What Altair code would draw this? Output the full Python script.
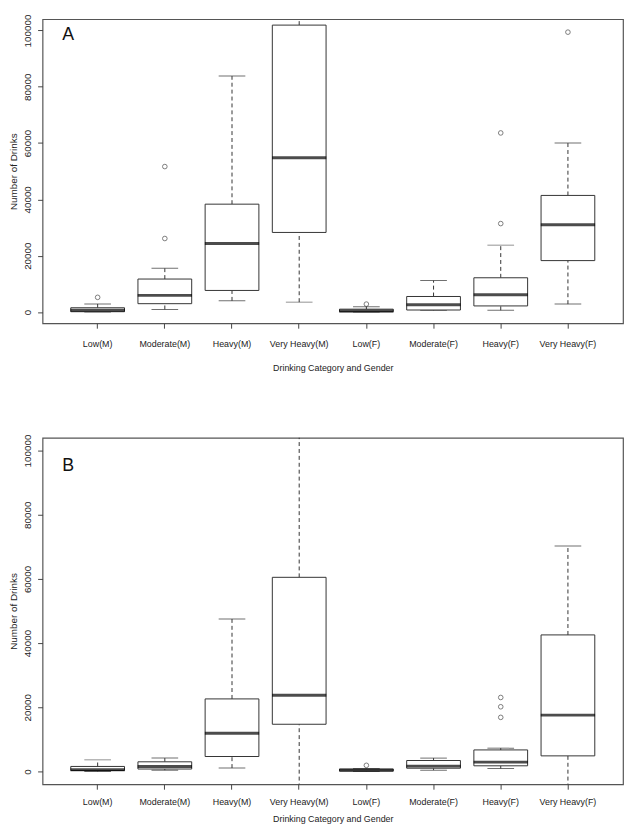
import altair as alt
import pandas as pd

cats = ["Low(M)", "Moderate(M)", "Heavy(M)", "Very Heavy(M)",
        "Low(F)", "Moderate(F)", "Heavy(F)", "Very Heavy(F)"]

# Panel A five-number summaries
a_lo  = [0, 900, 3950, 3500, 0, 600, 600, 2800]
a_q1  = [100, 2950, 7650, 28250, 100, 700, 2150, 18250]
a_med = [600, 5900, 24300, 54800, 350, 2600, 6100, 30950]
a_q3  = [1500, 11700, 38300, 101900, 1000, 5500, 12150, 41400]
a_hi  = [2850, 15500, 83800, 105000, 1900, 11150, 23750, 60000]
a_out_cat = ["Low(M)", "Moderate(M)", "Moderate(M)", "Low(F)", "Heavy(F)", "Heavy(F)", "Very Heavy(F)"]
a_out_val = [5200, 26100, 51650, 2800, 31400, 63600, 99400]

# Panel B five-number summaries
b_lo  = [0, 400, 1050, -5000, 0, 400, 900, -5000]
b_q1  = [300, 750, 4650, 14700, 100, 1000, 1750, 4850]
b_med = [500, 1550, 11900, 23750, 400, 1650, 2900, 17550]
b_q3  = [1550, 3000, 22600, 60500, 750, 3400, 6700, 42550]
b_hi  = [3600, 4150, 47500, 105000, 900, 4150, 7250, 70250]
b_out_cat = ["Low(F)", "Heavy(F)", "Heavy(F)", "Heavy(F)"]
b_out_val = [1900, 16850, 20150, 23050]

y_ticks = [0, 20000, 40000, 60000, 80000, 100000]

LINE = "#333333"
SANS = "Liberation Sans, Arial, sans-serif"


def panel(letter, lo, q1, med, q3, hi, out_cat, out_val, height,
          label_pad, title_pad, letter_y):
    df = pd.DataFrame(dict(cat=cats, lo=lo, q1=q1, med=med, q3=q3, hi=hi))
    od = pd.DataFrame(dict(cat=out_cat, val=out_val))
    ld = pd.DataFrame(dict(t=[letter]))

    x = alt.X("cat:N", sort=cats,
              scale=alt.Scale(paddingInner=0, paddingOuter=0.32),
              axis=alt.Axis(title="Drinking Category and Gender", labelAngle=0,
                            domain=False, tickSize=5, tickColor="#444",
                            labelFont=SANS, labelFontSize=9, labelColor="#222",
                            labelPadding=label_pad, titleFont=SANS, titleFontSize=9,
                            titleFontWeight="normal", titleColor="#222",
                            titlePadding=title_pad))
    ysc = alt.Scale(domain=[-4000, 104000], nice=False, zero=False)
    yax = alt.Axis(title="Number of Drinks", values=y_ticks, format="d",
                   labelAngle=270, labelAlign="center", labelBaseline="bottom",
                   grid=False, domain=False, tickSize=5, tickColor="#444",
                   labelFont=SANS, labelFontSize=10, labelColor="#222",
                   labelPadding=5, titleFont=SANS, titleFontSize=10,
                   titleFontWeight="normal", titleColor="#222", titlePadding=4)

    base = alt.Chart(df).encode(x=x)
    upper = base.mark_rule(strokeDash=[4, 3], color=LINE, strokeWidth=1, clip=True).encode(
        y=alt.Y("q3:Q", scale=ysc, axis=yax), y2="hi:Q")
    lower = base.mark_rule(strokeDash=[4, 3], color=LINE, strokeWidth=1, clip=True).encode(
        y=alt.Y("lo:Q", scale=ysc), y2="q1:Q")
    cap_hi = base.mark_tick(size=27, thickness=1, color=LINE, clip=True).encode(
        y=alt.Y("hi:Q", scale=ysc))
    cap_lo = base.mark_tick(size=27, thickness=1, color=LINE, clip=True).encode(
        y=alt.Y("lo:Q", scale=ysc))
    box = base.mark_bar(width=alt.RelativeBandSize(0.8), fill="white", stroke=LINE,
                        strokeWidth=1, clip=True).encode(
        y=alt.Y("q1:Q", scale=ysc), y2="q3:Q")
    median = base.mark_tick(size=55, thickness=3, color="#000", clip=True).encode(
        y=alt.Y("med:Q", scale=ysc))
    outl = alt.Chart(od).mark_point(shape="circle", filled=False, size=22,
                                    color=LINE, strokeWidth=0.9, clip=True).encode(
        x=alt.X("cat:N", sort=cats), y=alt.Y("val:Q", scale=ysc))
    lab = alt.Chart(ld).mark_text(fontSize=18, font=SANS, color="#111",
                                  align="center", baseline="alphabetic").encode(
        text="t:N", x=alt.value(26), y=alt.value(letter_y))

    return alt.layer(upper, lower, cap_hi, cap_lo, box, median, outl, lab).properties(
        width=588, height=height)


pa = panel("A", a_lo, a_q1, a_med, a_q3, a_hi, a_out_cat, a_out_val, 308, 12, 15, 21)
pb = panel("B", b_lo, b_q1, b_med, b_q3, b_hi, b_out_cat, b_out_val, 351, 9, 8, 34)

chart = alt.vconcat(pa, pb, spacing=60).properties(padding=0).configure_view(
    stroke="#555", strokeWidth=1.2)

chart.save("out.html", embed_options={"renderer": "svg", "actions": False})
